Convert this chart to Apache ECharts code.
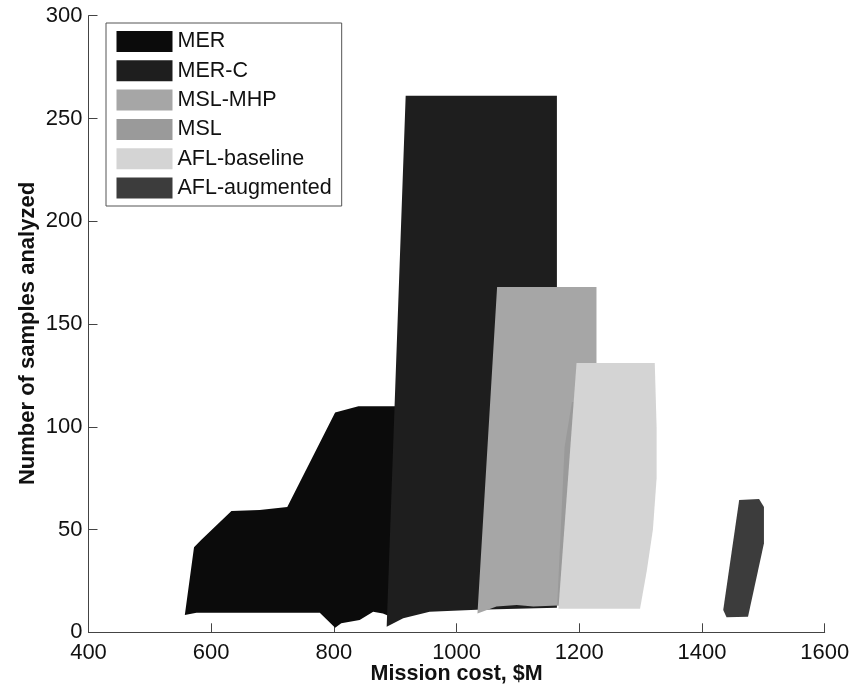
<!DOCTYPE html>
<html>
<head>
<meta charset="utf-8">
<script src="https://cdn.jsdelivr.net/npm/echarts@6/dist/echarts.min.js"></script>
<style>
html,body{margin:0;padding:0;background:#fff;}
#chart{width:851px;height:688px;}
</style>
</head>
<body>
<div id="chart"></div>
<script>
// Series names (legend order)
const seriesNames = ['MER', 'MER-C', 'MSL-MHP', 'MSL', 'AFL-baseline', 'AFL-augmented'];
// Polygon outlines: [mission cost $M, number of samples]
const merPoly = [[557,8.4],[572,41.4],[584,45],[633,59],[679,59.5],[724,61],[802,107],[840,110],[905,110],[905,6],[880,9.2],[864,10],[842,6],[812,4.4],[802,2.2],[777,9.5],[576,9.5]];
const merCPoly = [[886,2.7],[917,261],[1163.5,261],[1163.5,12],[1033,11],[956,10],[913,6.8]];
const mslMhpPoly = [[1034,9.2],[1066,168],[1228,168],[1228,13],[1165,13],[1125,12.5],[1098,13.3],[1065,12.5]];
const mslPoly = [[1164,13],[1176,90],[1188,112],[1230,112],[1230,13]];
const aflBasePoly = [[1166,11.5],[1195.5,131],[1323,131],[1326,100],[1326,75],[1320,50],[1310,30],[1299,11.5]];
const aflAugPoly = [[1460.6,64.4],[1493,64.9],[1501,61],[1501,43.3],[1475,7.6],[1440,7.3],[1434.6,10.8]];
// Axis ticks
const xTicks = {min: 400, max: 1600, interval: 200};
const yTicks = {min: 0, max: 300, interval: 50};

const polys = [merPoly, merCPoly, mslMhpPoly, mslPoly, aflBasePoly, aflAugPoly];
const colors = ['#0b0b0b', '#1e1e1e', '#a6a6a6', '#9a9a9a', '#d4d4d4', '#3c3c3c'];

const FONT = '"Liberation Sans", Arial, sans-serif';

const chart = echarts.init(document.getElementById('chart'), null, {renderer: 'canvas'});

const series = polys.map((pts, i) => ({
  name: seriesNames[i],
  type: 'custom',
  coordinateSystem: 'cartesian2d',
  itemStyle: {color: colors[i]},
  encode: {x: 0, y: 1},
  data: pts,
  z: 2 + i,
  renderItem: function (params, api) {
    if (params.dataIndex !== 0) return null;
    const coords = pts.map(p => api.coord(p));
    return {
      type: 'polygon',
      shape: {points: coords},
      style: {fill: colors[i], stroke: null}
    };
  }
}));

chart.setOption({
  animation: false,
  backgroundColor: '#ffffff',
  grid: {left: 88.5, right: 26.3, top: 15.7, bottom: 55.7, containLabel: false, outerBoundsMode: 'none'},
  legend: {
    data: seriesNames.map(n => ({name: n, icon: 'rect'})),
    orient: 'vertical',
    left: 106,
    top: 23,
    itemWidth: 56,
    itemHeight: 21,
    itemGap: 7.3,
    padding: [7.5, 10, 7, 10.5],
    borderColor: '#555',
    borderWidth: 1,
    selectedMode: false,
    textStyle: {fontFamily: FONT, fontSize: 21.5, color: '#111', lineHeight: 21, padding: [0, 0, 0, 0]}
  },
  xAxis: {
    type: 'value',
    min: xTicks.min, max: xTicks.max, interval: xTicks.interval,
    name: 'Mission cost, $M',
    nameLocation: 'middle',
    nameGap: 31,
    nameMoveOverlap: false,
    nameTextStyle: {fontFamily: FONT, fontSize: 21.5, fontWeight: 'bold', color: '#111'},
    axisLine: {show: true, onZero: false, lineStyle: {color: '#444', width: 1}},
    axisTick: {show: true, inside: true, length: 9, lineStyle: {color: '#444'}},
    axisLabel: {fontFamily: FONT, fontSize: 22, color: '#111', margin: 10, formatter: v => String(v)},
    splitLine: {show: false}
  },
  yAxis: {
    type: 'value',
    min: yTicks.min, max: yTicks.max, interval: yTicks.interval,
    name: 'Number of samples analyzed',
    nameLocation: 'middle',
    nameGap: 50,
    nameMoveOverlap: false,
    nameRotate: 90,
    nameTextStyle: {fontFamily: FONT, fontSize: 22, fontWeight: 'bold', color: '#111', padding: [0, 19, 0, 0]},
    axisLine: {show: true, lineStyle: {color: '#444', width: 1}},
    axisTick: {show: true, inside: true, length: 9, lineStyle: {color: '#444'}},
    axisLabel: {fontFamily: FONT, fontSize: 22, color: '#111', margin: 6, formatter: v => String(v)},
    splitLine: {show: false}
  },
  series: series
});
</script>
</body>
</html>
